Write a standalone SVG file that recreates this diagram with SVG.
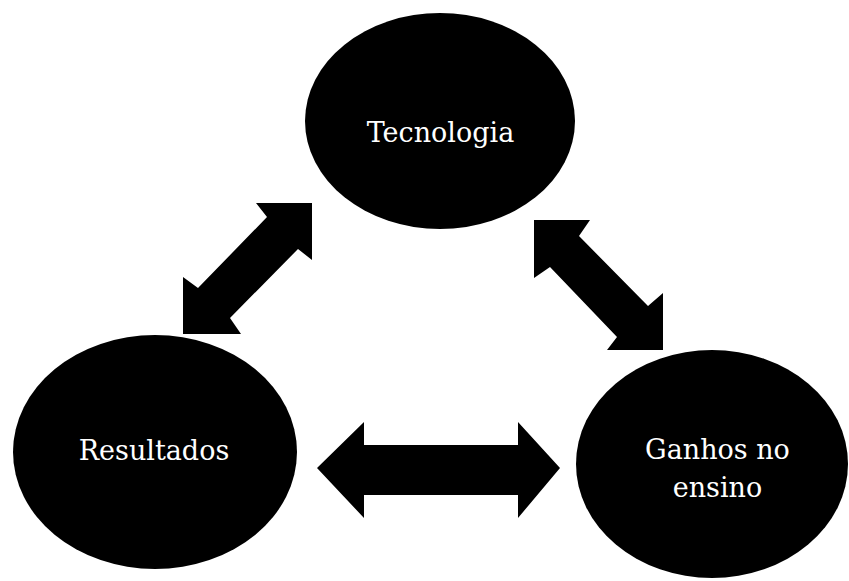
<svg xmlns="http://www.w3.org/2000/svg" width="849" height="581" viewBox="0 0 849 581">
<style>
.node{fill:#000}
.lbl{fill:#fff;font-family:"DejaVu Serif","Liberation Serif",serif;font-size:27px;text-anchor:middle}
.arr{fill:#000}
</style>
<rect width="849" height="581" fill="#fff"/>
<g id="connectors">
<polygon class="arr" points="312,203 312,260 298,249 230,318 241,334 183,334 183,277 198,288 267,217 256,203"/>
<polygon class="arr" points="534,220 590,220 579,236 648,306 663,293 663,350 607,350 617,337 550,267 534,278"/>
<polygon class="arr" points="317,468 364,422 364,445 518,445 518,422 560,468 518,518 518,495 364,495 364,518"/>
</g>
<g id="tecnologia">
<ellipse class="node" cx="440" cy="121" rx="135" ry="108"/>
<text class="lbl" x="440.5" y="142">Tecnologia</text>
</g>
<g id="resultados">
<ellipse class="node" cx="155" cy="452" rx="142" ry="117"/>
<text class="lbl" x="154" y="460">Resultados</text>
</g>
<g id="ganhos">
<ellipse class="node" cx="712" cy="464" rx="136" ry="114"/>
<text class="lbl" x="717.5" y="459">Ganhos no</text>
<text class="lbl" x="717.5" y="497">ensino</text>
</g>
</svg>
